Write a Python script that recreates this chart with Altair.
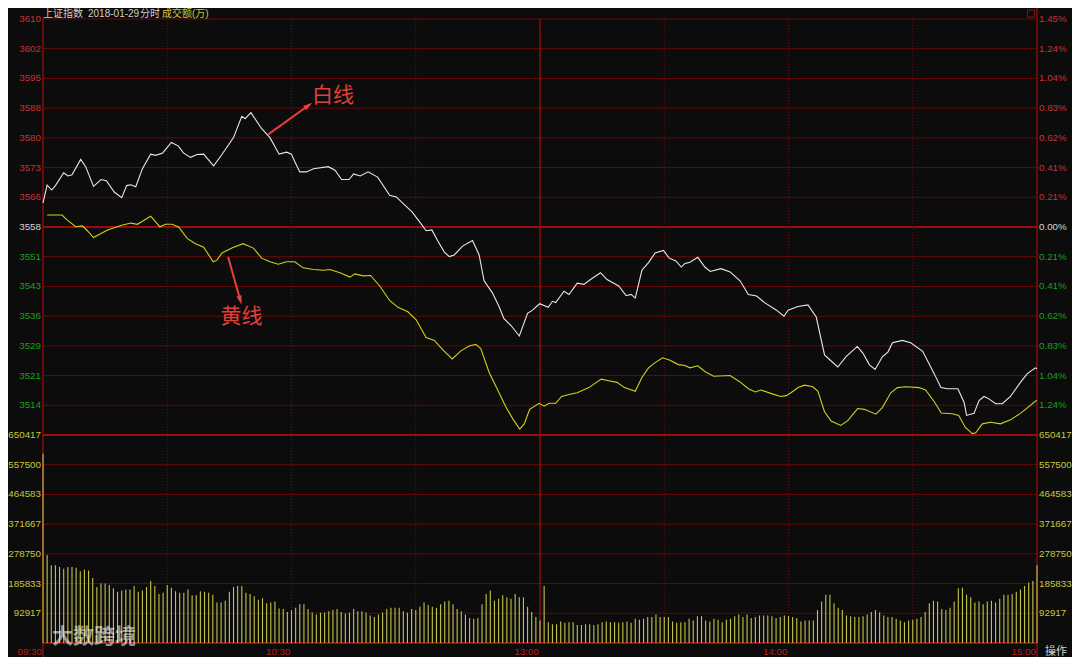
import altair as alt
import pandas as pd

# ---------------- data ----------------
prev_close = 3558.13
grid_values = [3609.72, 3602.35, 3594.98, 3587.61, 3580.24, 3572.87, 3565.50, 3558.13,
               3550.76, 3543.39, 3536.02, 3528.65, 3521.28, 3513.91, 3506.54]
price_labels = ["3610", "3602", "3595", "3588", "3580", "3573", "3566", "3558",
                "3551", "3543", "3536", "3529", "3521", "3514"]
pct_labels = ["1.45%", "1.24%", "1.04%", "0.83%", "0.62%", "0.41%", "0.21%", "0.00%",
              "0.21%", "0.41%", "0.62%", "0.83%", "1.04%", "1.24%"]
vol_ticks = [650417, 557500, 464583, 371667, 278750, 185833, 92917]
vol_labels = ["650417", "557500", "464583", "371667", "278750", "185833", "92917"]
time_ticks = [0, 60, 120, 180, 240]
time_labels = ["09:30", "10:30", "13:00", "14:00", "15:00"]

white = [(0, 3564.1), (1, 3568.5), (2.1, 3567.3), (3, 3568.4), (5, 3571.6), (6, 3570.8), (7, 3571.1),
         (9.1, 3574.9), (10.3, 3573.1), (12.2, 3568.2), (14, 3569.9), (15.3, 3569.6), (17.2, 3566.8),
         (19, 3565.4), (20.2, 3568.4), (21.2, 3568.6), (22.4, 3568.1), (24, 3572.6), (26, 3576.2),
         (27.2, 3575.9), (28.9, 3576.5), (31, 3579.1), (32.7, 3578.2), (33.9, 3576.5), (35.6, 3575.4),
         (37.2, 3576.1), (38.8, 3576.2), (39.6, 3575.2), (41.2, 3573.3), (43.2, 3576.1), (46, 3580.3),
         (48, 3585.6), (48.8, 3585.0), (50.2, 3586.5), (52.8, 3582.5), (54.8, 3580.3), (57, 3576.2),
         (58.8, 3576.7), (60, 3576.2), (60.8, 3574.3), (62, 3571.8), (63.6, 3571.8), (65.3, 3572.6),
         (68.9, 3573.1), (70.5, 3572.2), (72.1, 3569.9), (73.9, 3569.9), (75, 3571.3), (76.6, 3570.8),
         (78.5, 3571.8), (80.8, 3570.5), (83.7, 3566.0), (85.3, 3565.6), (87.3, 3563.6), (89.1, 3561.9),
         (91.3, 3558.9), (92.5, 3557.2), (93.9, 3557.4), (95.3, 3554.7), (96.9, 3551.9), (98.1, 3550.8),
         (99.3, 3551.2), (101.3, 3553.4), (103.7, 3554.8), (105.3, 3551.2), (106.5, 3544.8),
         (108.5, 3541.8), (110.1, 3538.4), (111.3, 3535.4), (113, 3533.7), (115, 3531.1), (117, 3536.7),
         (118.2, 3537.5), (119.9, 3539.1), (122, 3538.2), (123, 3539.7), (123.8, 3539.4), (125.8, 3542.2),
         (127, 3541.4), (129, 3544.2), (130.6, 3543.9), (132.2, 3545.1), (134.6, 3546.8), (136.2, 3545.1),
         (139, 3543.5), (140.8, 3541.1), (142, 3541.4), (143, 3540.5), (144.6, 3547.4), (146.2, 3549.3),
         (147.8, 3551.7), (149.8, 3552.3), (151.2, 3550.4), (152.8, 3549.7), (154.1, 3548.2),
         (155, 3549.1), (156.2, 3549.4), (158.1, 3550.6), (159.8, 3548.2), (161.1, 3547.1),
         (163.7, 3547.8), (165.9, 3547.0), (168.3, 3544.8), (170.3, 3541.4), (172.3, 3541.0),
         (174.3, 3539.3), (177.1, 3537.5), (178.9, 3536.0), (179.9, 3537.5), (182.3, 3538.4),
         (184.7, 3538.8), (186.7, 3535.8), (188.7, 3526.4), (190.3, 3524.9), (191.9, 3523.4),
         (193.9, 3526.0), (195.1, 3527.1), (196.6, 3528.5), (198, 3526.8), (199.5, 3524.0),
         (200.9, 3522.8), (202.7, 3526.0), (204, 3527.1), (205.1, 3529.4), (207.5, 3530.0),
         (209.5, 3529.4), (212.4, 3527.3), (215.2, 3521.7), (216.8, 3518.3), (218.4, 3518.0),
         (220.9, 3518.0), (222.4, 3514.6), (223, 3511.4), (224.8, 3511.9), (226, 3515.1),
         (227.2, 3516.1), (228.4, 3515.5), (230, 3514.3), (231.6, 3514.3), (233.6, 3516.1),
         (236, 3519.6), (237.6, 3521.7), (239.6, 3523.2), (240, 3523.0)]

yellow = [(1, 3561.1), (2.6, 3561.1), (4.6, 3561.1), (5.8, 3559.9), (7.9, 3558.2), (9.5, 3558.4),
          (10.7, 3557.2), (12.2, 3555.5), (14, 3556.5), (15.6, 3557.4), (18.8, 3558.5), (21.2, 3559.1),
          (22.8, 3558.8), (24.4, 3559.8), (26, 3560.8), (28.2, 3558.2), (29.6, 3558.8), (31.2, 3558.8),
          (32.8, 3558.1), (34.8, 3555.3), (36.8, 3554.0), (38.8, 3553.1), (41.1, 3549.5), (42, 3549.9),
          (43.2, 3551.7), (45.6, 3552.9), (48.3, 3554.0), (50.8, 3552.9), (52.8, 3550.4), (54.8, 3549.5),
          (56.8, 3548.9), (58.8, 3549.5), (60.8, 3549.5), (62.8, 3548.0), (65.3, 3547.6), (67.7, 3547.4),
          (69.3, 3547.6), (71.7, 3546.8), (74.1, 3545.7), (75.3, 3546.5), (77.3, 3546.0), (79.1, 3546.1),
          (81.3, 3543.5), (83.7, 3539.9), (85.7, 3538.2), (88.1, 3537.1), (90.1, 3535.1), (92.5, 3530.7),
          (94.5, 3530.0), (96.5, 3527.7), (98.8, 3525.4), (100.9, 3527.4), (102.9, 3528.6),
          (104.5, 3529.0), (105.7, 3528.0), (107.7, 3522.1), (109.7, 3517.9), (111.8, 3513.4),
          (113.4, 3510.6), (115.1, 3508.0), (116.2, 3509.3), (117.5, 3512.9), (119.8, 3514.4),
          (121, 3513.7), (122.2, 3514.4), (123.8, 3514.4), (125.2, 3516.1), (127, 3516.6), (129, 3517.0),
          (131.8, 3518.3), (134.8, 3520.4), (136.6, 3520.0), (138.6, 3519.6), (140.4, 3518.3),
          (143, 3517.4), (144.6, 3520.8), (146.2, 3523.2), (147.8, 3524.5), (149.6, 3525.7),
          (151.4, 3525.1), (153.4, 3524.0), (155, 3523.8), (156.2, 3523.2), (158.1, 3523.7),
          (159.8, 3522.3), (161.9, 3521.1), (165.9, 3521.3), (168.3, 3519.7), (170.3, 3518.0),
          (172, 3517.2), (173.3, 3517.7), (175.9, 3516.8), (178.1, 3516.1), (179.5, 3516.3),
          (181.1, 3517.4), (182.3, 3518.3), (183.9, 3518.9), (185.9, 3518.5), (187.1, 3517.4),
          (188.7, 3512.3), (190.3, 3510.0), (192.6, 3508.9), (194.3, 3510.1), (196.7, 3513.1),
          (198.3, 3512.9), (201.1, 3511.7), (202.7, 3513.4), (204.7, 3517.0), (206.3, 3518.3),
          (208.3, 3518.5), (211.5, 3518.3), (213.1, 3517.7), (215.2, 3514.8), (216.9, 3512.0),
          (219.5, 3511.8), (221.1, 3511.4), (222.7, 3508.4), (224.4, 3506.9), (225.2, 3507.1),
          (226.8, 3509.3), (228.8, 3509.7), (231.2, 3509.3), (233.6, 3510.3), (236, 3511.9),
          (237.6, 3513.2), (239.6, 3514.9), (240, 3515.1)]

# turnover per minute, in thousands of 万 (minute 0 = 09:30 ... 240 = 15:00)
vol_k = [592, 275, 243, 243, 238, 232, 238, 238, 235, 224,
         229, 227, 203, 175, 186, 186, 181, 171, 160, 164,
         167, 167, 178, 160, 164, 175, 194, 178, 153, 157,
         181, 173, 162, 157, 157, 167, 149, 149, 162, 160,
         157, 151, 127, 127, 132, 160, 175, 178, 178, 157,
         153, 146, 135, 140, 124, 127, 130, 108, 106, 97,
         103, 110, 121, 121, 106, 95, 89, 95, 95, 99,
         103, 106, 97, 92, 95, 106, 99, 99, 95, 86,
         81, 89, 95, 106, 110, 110, 110, 99, 95, 106,
         103, 113, 127, 119, 113, 110, 121, 130, 132, 121,
         106, 99, 89, 78, 76, 78, 121, 153, 164, 132,
         138, 149, 143, 138, 153, 143, 143, 113, 97, 81,
         70, 178, 65, 59, 59, 67, 63, 65, 65, 56,
         56, 59, 59, 56, 59, 65, 67, 65, 65, 63,
         65, 67, 63, 76, 73, 76, 81, 81, 89, 81,
         81, 81, 67, 63, 65, 65, 76, 70, 84, 84,
         70, 67, 76, 73, 65, 73, 76, 84, 89, 81,
         89, 78, 81, 86, 86, 86, 84, 78, 81, 86,
         84, 81, 78, 67, 70, 70, 70, 103, 130, 151,
         151, 124, 110, 103, 86, 84, 81, 81, 84, 89,
         97, 103, 95, 86, 81, 81, 76, 70, 65, 70,
         73, 76, 81, 97, 124, 132, 130, 106, 103, 110,
         130, 171, 173, 151, 143, 127, 130, 121, 130, 132,
         127, 138, 151, 151, 153, 160, 167, 178, 189, 194,
         243]

title_parts = ["上证指数", "2018-01-29", "分时", "成交额(万)"]
ann_texts = ["白线", "黄线"]
ann_text_pos = [(70, 3590.7), (47.9, 3535.7)]
ann_arrows = [(54.4, 3581.1, 64.0, 3588.2), (44.7, 3550.7, 47.6, 3540.1)]

# ---------------- layout / styles ----------------
W, H = 994, 624
HP = H * 14 / 21
BG = "#0c0c0c"
GRID = "#6a0707"
GRID_MAJOR = "#9a0c0c"
RED_TXT = "#c83232"
GREEN_TXT = "#1f9f1f"
WHITE_TXT = "#d8d8d8"
YEL_TXT = "#c8c83a"
NUM_FONT = "Liberation Sans, Arial"
CJK_FONT = "Liberation Sans, Noto Sans CJK SC"
NUM_SIZE = 9.8

xs = alt.Scale(domain=[0, 240], range=[0, W], nice=False, zero=False)
ps = alt.Scale(domain=[grid_values[-1], grid_values[0]], range=[HP, 0], nice=False, zero=False)
vs = alt.Scale(domain=[0, vol_ticks[0]], range=[H, HP], nice=False, zero=False)


def X(f):
    return alt.X(f, type="quantitative", scale=xs, axis=None)


def YP(f):
    return alt.Y(f, type="quantitative", scale=ps, axis=None)


def YV(f):
    return alt.Y(f, type="quantitative", scale=vs, axis=None)


layers = []

# horizontal grid (price)
gdf = pd.DataFrame({"v": grid_values})
minor_idx = [i for i in range(len(grid_values)) if i not in (7, 14)]
layers.append(alt.Chart(gdf.iloc[minor_idx]).mark_rule(color=GRID, strokeWidth=1).encode(
    y=YP("v"), x=alt.value(0), x2=alt.value(W)))
layers.append(alt.Chart(gdf.iloc[[7, 14]]).mark_rule(color=GRID_MAJOR, strokeWidth=1.8).encode(
    y=YP("v"), x=alt.value(0), x2=alt.value(W)))

# horizontal grid (volume)
vdf = pd.DataFrame({"v": vol_ticks[1:]})
layers.append(alt.Chart(vdf).mark_rule(color=GRID, strokeWidth=1).encode(
    y=YV("v"), x=alt.value(0), x2=alt.value(W)))
layers.append(alt.Chart(pd.DataFrame({"v": [0]})).mark_rule(color=GRID_MAJOR, strokeWidth=1.8).encode(
    y=YV("v"), x=alt.value(0), x2=alt.value(W)))

# vertical grid
layers.append(alt.Chart(pd.DataFrame({"m": [30, 60, 90, 150, 180, 210]})).mark_rule(
    color="#7a0a0a", strokeWidth=1, strokeDash=[1, 2]).encode(
    x=X("m"), y=alt.value(0), y2=alt.value(H)))
layers.append(alt.Chart(pd.DataFrame({"m": [120]})).mark_rule(color=GRID_MAJOR, strokeWidth=1.3).encode(
    x=X("m"), y=alt.value(0), y2=alt.value(H)))
layers.append(alt.Chart(pd.DataFrame({"m": [0]})).mark_rule(color=GRID_MAJOR, strokeWidth=1.3).encode(
    x=X("m"), y=alt.value(0), y2=alt.value(H + 14)))
layers.append(alt.Chart(pd.DataFrame({"m": [240]})).mark_rule(color=GRID_MAJOR, strokeWidth=1.3).encode(
    x=X("m"), y=alt.value(-11), y2=alt.value(H + 14)))

# volume bars
vol_df = pd.DataFrame({"m": list(range(len(vol_k))), "vol": [v * 1000 for v in vol_k], "zero": 0})
layers.append(alt.Chart(vol_df).mark_rule(color="#c4c44a", strokeWidth=1.1).encode(
    x=X("m"), y=YV("vol"), y2=alt.Y2("zero")))

# price lines
wdf = pd.DataFrame(white, columns=["m", "p"])
ydf = pd.DataFrame(yellow, columns=["m", "p"])
layers.append(alt.Chart(ydf).mark_line(color="#d0d020", strokeWidth=1.1).encode(x=X("m"), y=YP("p")))
layers.append(alt.Chart(wdf).mark_line(color="#e8e8e8", strokeWidth=1.1).encode(x=X("m"), y=YP("p")))

# left / right price labels
lab = pd.DataFrame({"v": grid_values[:14], "lab": price_labels, "pct": pct_labels})
groups = [(list(range(0, 7)), RED_TXT), ([7], WHITE_TXT), (list(range(8, 14)), GREEN_TXT)]
for idx, col in groups:
    sub = lab.iloc[idx]
    layers.append(alt.Chart(sub).mark_text(align="right", baseline="middle", font=NUM_FONT,
                                           fontSize=NUM_SIZE, color=col).encode(
        y=YP("v"), x=alt.value(-2), text="lab:N"))
    layers.append(alt.Chart(sub).mark_text(align="left", baseline="middle", font=NUM_FONT,
                                           fontSize=NUM_SIZE, color=col).encode(
        y=YP("v"), x=alt.value(W + 2), text="pct:N"))

# volume labels
vlab = pd.DataFrame({"v": vol_ticks, "lab": vol_labels})
layers.append(alt.Chart(vlab).mark_text(align="right", baseline="middle", font=NUM_FONT,
                                        fontSize=NUM_SIZE, color=YEL_TXT).encode(
    y=YV("v"), x=alt.value(-2), text="lab:N"))
layers.append(alt.Chart(vlab).mark_text(align="left", baseline="middle", font=NUM_FONT,
                                        fontSize=NUM_SIZE, color=YEL_TXT).encode(
    y=YV("v"), x=alt.value(W + 2), text="lab:N"))

# time labels
tdf = pd.DataFrame({"m": time_ticks, "lab": time_labels})
layers.append(alt.Chart(tdf).mark_text(align="right", baseline="alphabetic", font=NUM_FONT,
                                       fontSize=NUM_SIZE, color="#b42020", dx=-1).encode(
    x=X("m"), y=alt.value(H + 12), text="lab:N"))

# title
title_x = [0, 45, 97, 119]
title_col = ["#cfcfcf", "#cfcfcf", "#cfcfcf", "#c8c83a"]
for t, xx, c in zip(title_parts, title_x, title_col):
    layers.append(alt.Chart(pd.DataFrame({"t": [t]})).mark_text(
        align="left", baseline="alphabetic", font=CJK_FONT, fontSize=10, color=c).encode(
        x=alt.value(xx), y=alt.value(-2), text="t:N"))

# top-right small box
layers.append(alt.Chart(pd.DataFrame({"k": [1]})).mark_point(
    shape="square", filled=False, color="#b02020", size=50, strokeWidth=1).encode(
    x=alt.value(W - 6), y=alt.value(-5.5)))

# bottom-right text
layers.append(alt.Chart(pd.DataFrame({"t": ["操作"]})).mark_text(
    align="left", baseline="alphabetic", font="Noto Sans CJK SC", fontSize=11, color="#d0d0d0").encode(
    x=alt.value(W + 8), y=alt.value(H + 12), text="t:N"))

# watermark
layers.append(alt.Chart(pd.DataFrame({"t": ["大数跨境"]})).mark_text(
    align="left", baseline="middle", font="Noto Sans CJK SC", fontSize=21, fontWeight="bold",
    color="#ffffff", opacity=0.55).encode(
    x=alt.value(9), y=alt.value(H - 6), text="t:N"))

# annotations
adf = pd.DataFrame(ann_arrows, columns=["m1", "p1", "m2", "p2"])
layers.append(alt.Chart(adf).mark_rule(color="#e8403a", strokeWidth=2).encode(
    x=X("m1"), y=YP("p1"), x2=alt.X2("m2"), y2=alt.Y2("p2")))
angles = [54, 164]
for i in range(2):
    layers.append(alt.Chart(adf.iloc[[i]]).mark_point(
        shape="M0,-1L0.5,0.8L-0.5,0.8Z", filled=True, color="#e8403a", size=110, angle=angles[i],
        opacity=1).encode(x=X("m2"), y=YP("p2")))
tdf2 = pd.DataFrame({"t": ann_texts, "m": [p[0] for p in ann_text_pos], "p": [p[1] for p in ann_text_pos]})
layers.append(alt.Chart(tdf2).mark_text(align="center", baseline="middle", font="Noto Sans CJK SC",
                                        fontSize=21, color="#e0403a").encode(
    x=X("m"), y=YP("p"), text="t:N"))

chart = alt.layer(*layers).resolve_scale(y="independent").properties(
    width=W, height=H, background=BG,
    padding={"left": 35, "top": 11, "right": 35, "bottom": 14},
    autosize=alt.AutoSizeParams(type="none"),
).configure_view(stroke=None)

chart.save("out.html", embed_options={"renderer": "svg", "actions": False})
